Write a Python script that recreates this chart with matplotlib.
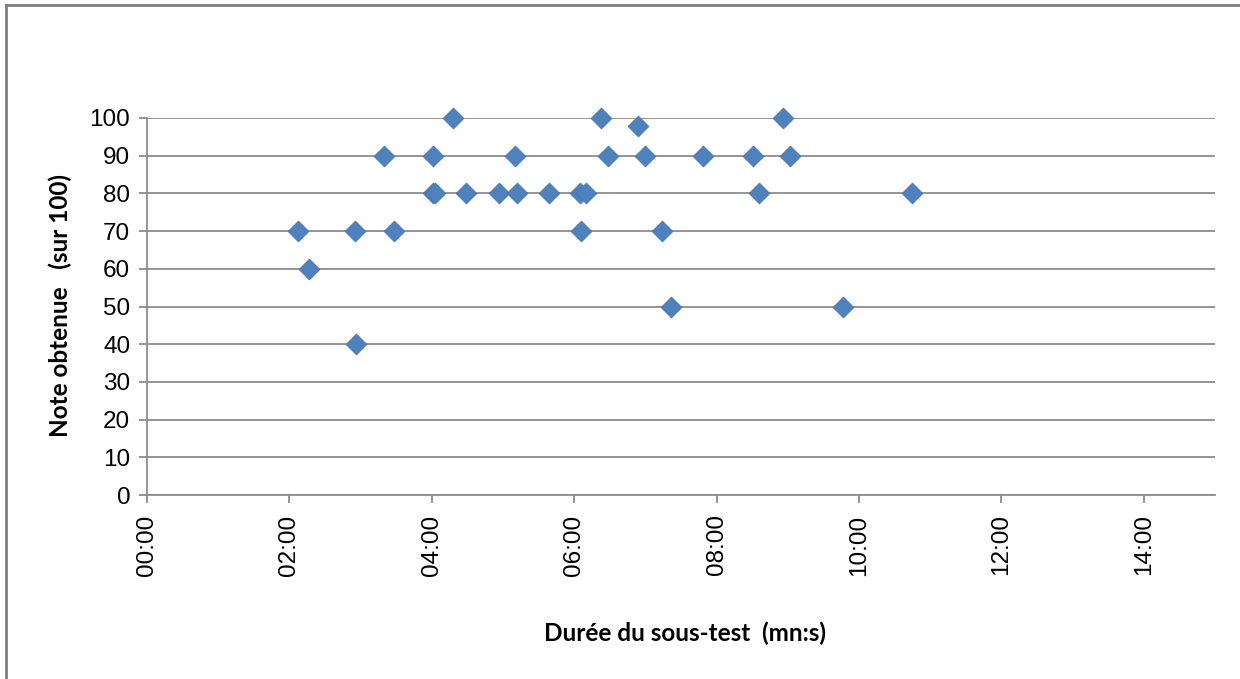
import matplotlib.pyplot as plt
from matplotlib.lines import Line2D
from matplotlib.ticker import FuncFormatter

# Durée du sous-test in minutes, note obtenue (sur 100)
durees = [2.12, 2.28, 2.92, 2.94, 3.33, 3.47, 4.02, 4.01, 4.04, 4.30,
          4.48, 4.94, 5.17, 5.20, 5.65, 6.08, 6.17, 6.10, 6.38, 6.47,
          6.90, 6.99, 7.24, 7.36, 7.81, 8.51, 8.60, 8.93, 9.03, 9.78, 10.74]
notes = [70, 60, 70, 40, 90, 70, 90, 80, 80, 100,
         80, 80, 90, 80, 80, 80, 80, 70, 100, 90,
         98, 90, 70, 50, 90, 90, 80, 100, 90, 50, 80]

x_ticks = [0, 2, 4, 6, 8, 10, 12, 14]
y_ticks = list(range(0, 101, 10))

tick_font = 'Liberation Sans'
label_font = 'Lato'
grid_col = '#8c8c8c'
blue = '#4F81BD'

fig = plt.figure(figsize=(12.4, 6.79), dpi=100)
ax = fig.add_axes([147 / 1240, 1 - 495 / 679, (1215 - 147) / 1240, (495 - 118) / 679])

ax.scatter(durees, notes, marker='D', s=112, color=blue, edgecolors='#4677b0',
           linewidths=0.6, zorder=3, clip_on=False)

ax.set_xlim(0, 15)
ax.set_ylim(0, 100)
ax.set_xticks(x_ticks)
ax.set_yticks(y_ticks)
ax.xaxis.set_major_formatter(FuncFormatter(lambda v, p: '%02d:00' % int(round(v))))
ax.yaxis.grid(True, color=grid_col, linewidth=1.3)
ax.set_axisbelow(True)

for side in ['top', 'right']:
    ax.spines[side].set_visible(False)
for side in ['left', 'bottom']:
    ax.spines[side].set_color(grid_col)
    ax.spines[side].set_linewidth(1.3)

ax.tick_params(axis='x', direction='out', length=6, width=1.3, color=grid_col,
               pad=8, labelrotation=90)
ax.tick_params(axis='y', direction='out', length=6, width=1.3, color=grid_col, pad=6)
for lab in ax.get_xticklabels() + ax.get_yticklabels():
    lab.set_fontfamily(tick_font)
    lab.set_fontsize(17.5)
    lab.set_color('black')

fig.text(60 / 1240, 1 - 306 / 679, 'Note obtenue   (sur 100)', rotation=90,
         ha='center', va='center', fontsize=17.5, fontweight='bold', family=label_font)
fig.text(685 / 1240, 1 - 633 / 679, 'Durée du sous-test  (mn:s)',
         ha='center', va='center', fontsize=17.5, fontweight='bold', family=label_font)

# chart area frame (top and left edges visible)
fig.add_artist(Line2D([6 / 1240, 6 / 1240], [0, 1 - 5 / 679], transform=fig.transFigure,
                      color='#808080', linewidth=2))
fig.add_artist(Line2D([6 / 1240, 1], [1 - 5 / 679, 1 - 5 / 679], transform=fig.transFigure,
                      color='#808080', linewidth=2))

fig.savefig('out.png', dpi=100)
